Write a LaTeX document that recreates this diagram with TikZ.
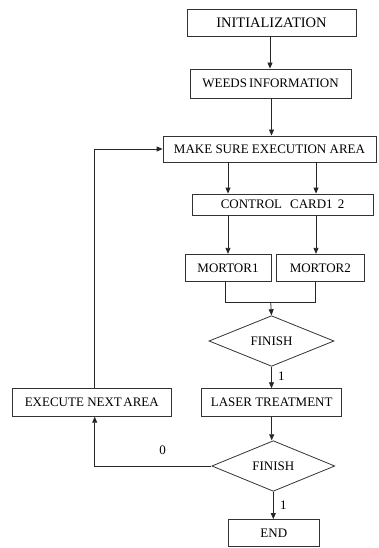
\documentclass[tikz,border=0pt]{standalone}
\usepackage{fontspec}
\setmainfont{Liberation Serif}
\usetikzlibrary{shapes.geometric,arrows.meta}
\begin{document}
\begin{tikzpicture}[x=1pt,y=-1pt,
  box/.style={draw=black!80,line width=0.8pt,rectangle,inner sep=0pt,font=\fontsize{13}{15}\selectfont,text=black},
  dia/.style={draw=black!80,line width=0.8pt,diamond,inner sep=0pt,font=\fontsize{13}{15}\selectfont,text=black},
  arr/.style={draw=black!85,line width=0.8pt,-{Triangle[length=6pt,width=5pt]}},
  ln/.style={draw=black!85,line width=0.8pt},
  lab/.style={font=\fontsize{13}{15}\selectfont,text=black}]
\useasboundingbox (0,0) rectangle (379,548);
\node[box,minimum width=169pt,minimum height=27pt,font=\fontsize{14.5}{16}\selectfont] (init) at (271.5,22.5) {INITIALIZATION};
\node[box,minimum width=161pt,minimum height=29pt] (weeds) at (270.5,83.5) {WEEDS\hspace{2pt}INFORMATION};
\node[box,minimum width=213pt,minimum height=26pt] (make) at (269.5,149) {MAKE SURE EXECUTION AREA};
\node[box,minimum width=181pt,minimum height=21pt] (ctrl) at (282.5,204.5) {CONTROL\hspace{8pt}CARD1\hspace{5pt}2};
\node[box,minimum width=86pt,minimum height=27.5pt] (m1) at (228,268) {MORTOR1};
\node[box,minimum width=88pt,minimum height=27.5pt] (m2) at (320.3,268) {MORTOR2};
\node[dia,minimum width=125pt,minimum height=44pt] (d1) at (271.5,341) {FINISH};
\node[box,minimum width=140pt,minimum height=27.6pt] (laser) at (271.7,402.5) {LASER TREATMENT};
\node[box,minimum width=159pt,minimum height=27.6pt] (exec) at (91.8,402.5) {EXECUTE NEXT\hspace{1.5pt}AREA};
\node[dia,minimum width=123pt,minimum height=46pt] (d2) at (273.3,466) {FINISH};
\node[box,minimum width=91pt,minimum height=27pt] (end) at (273.8,533) {END};
\coordinate (xl) at (228,0);
\coordinate (xr) at (316,0);
\coordinate (ml) at (225,0);
\coordinate (mr) at (315.7,0);
\coordinate (jy) at (0,302.3);
\coordinate (jx) at (270.7,0);
\coordinate (lx) at (94.7,0);
\draw[arr] (init.south -| 270,0) -- (weeds.north -| 270,0);
\draw[arr] (weeds.south -| 271.5,0) -- (make.north -| 271.5,0);
\draw[arr] (make.south -| xl) -- (ctrl.north -| xl);
\draw[arr] (make.south -| xr) -- (ctrl.north -| xr);
\draw[arr] (ctrl.south -| xl) -- (m1.north -| xl);
\draw[arr] (ctrl.south -| xr) -- (m2.north -| xr);
\draw[ln] (m1.south -| ml) -- (ml |- jy) -- (mr |- jy) -- (m2.south -| mr);
\draw[arr] (jx |- jy) -- (d1.north);
\draw[arr] (d1.south) -- node[lab,right,pos=0.45,xshift=3pt] {1} (d1.south |- laser.north);
\draw[arr] (laser.south) -- (laser.south |- d2.north);
\draw[arr] (d2.west) -- (lx |- d2.west) -- (lx |- exec.south);
\node[lab] (zero) at (162.7,450) {0};
\draw[arr] (d2.south) -- node[lab,right,pos=0.5,xshift=3pt] {1} (d2.south |- end.north);
\draw[arr] (lx |- exec.north) -- (lx |- make.west) -- (make.west);
\end{tikzpicture}
\end{document}
